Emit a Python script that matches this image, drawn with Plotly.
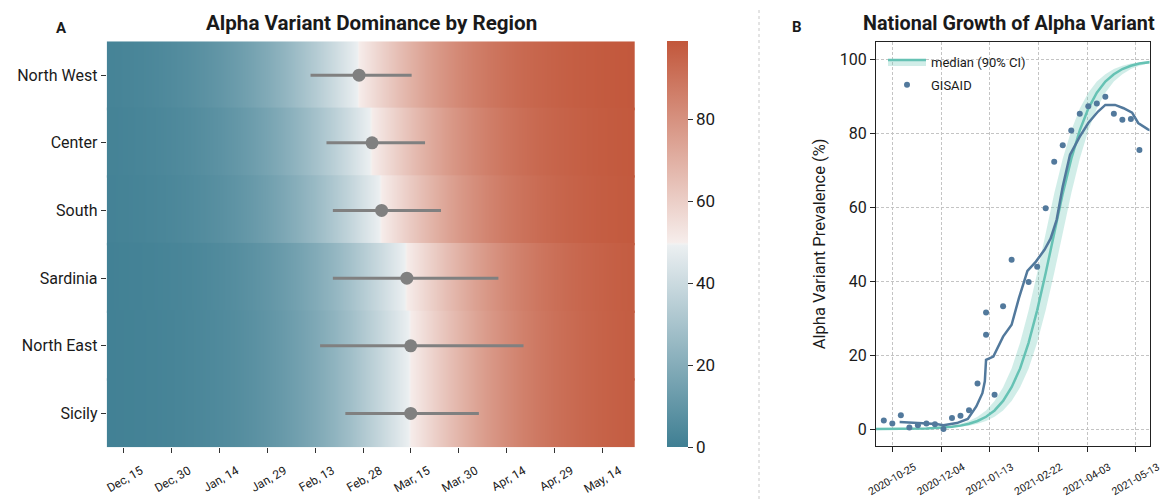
import plotly.graph_objects as go

# ---------------- Panel A data ----------------
regions = ["North West", "Center", "South", "Sardinia", "North East", "Sicily"]

# heatmap sample dates (every 5 days)
heat_dates = ["2020-12-10", "2020-12-15", "2020-12-20", "2020-12-25", "2020-12-30",
              "2021-01-04", "2021-01-09", "2021-01-14", "2021-01-19", "2021-01-24", "2021-01-29",
              "2021-02-03", "2021-02-08", "2021-02-13", "2021-02-18", "2021-02-23", "2021-02-28",
              "2021-03-05", "2021-03-10", "2021-03-15", "2021-03-20", "2021-03-25", "2021-03-30",
              "2021-04-04", "2021-04-09", "2021-04-14", "2021-04-19", "2021-04-24", "2021-04-29",
              "2021-05-04", "2021-05-09", "2021-05-14", "2021-05-19", "2021-05-24"]

prev_north_west = [1.9, 2.5, 3.1, 4.0, 5.1, 6.4, 8.1, 10.1, 12.6, 15.6, 19.2, 23.4, 28.2, 33.5, 39.3, 45.4, 51.6,
                   57.8, 63.8, 69.3, 74.4, 78.8, 82.7, 86.0, 88.7, 91.0, 92.9, 94.3, 95.5, 96.5, 97.2, 97.8, 98.3, 98.7]
prev_center = [1.6, 2.0, 2.6, 3.3, 4.2, 5.3, 6.7, 8.4, 10.5, 13.1, 16.2, 19.9, 24.2, 29.1, 34.5, 40.4, 46.5,
               52.7, 58.9, 64.8, 70.3, 75.2, 79.6, 83.3, 86.5, 89.2, 91.4, 93.2, 94.6, 95.7, 96.6, 97.4, 97.9, 98.4]
prev_south = [1.4, 1.7, 2.2, 2.8, 3.6, 4.6, 5.8, 7.3, 9.2, 11.5, 14.3, 17.7, 21.6, 26.1, 31.2, 36.8, 42.8,
              49.0, 55.2, 61.3, 67.0, 72.3, 77.0, 81.1, 84.7, 87.7, 90.1, 92.1, 93.8, 95.1, 96.1, 97.0, 97.6, 98.1]
prev_sardinia = [0.9, 1.2, 1.5, 1.9, 2.5, 3.1, 4.0, 5.1, 6.4, 8.1, 10.1, 12.6, 15.6, 19.2, 23.4, 28.2, 33.5,
                 39.3, 45.4, 51.6, 57.8, 63.8, 69.3, 74.4, 78.8, 82.7, 86.0, 88.7, 91.0, 92.9, 94.3, 95.5, 96.5, 97.2]
prev_north_east = [0.9, 1.1, 1.4, 1.8, 2.3, 3.0, 3.8, 4.8, 6.0, 7.6, 9.6, 12.0, 14.9, 18.3, 22.4, 27.0, 32.2,
                   37.9, 43.9, 50.1, 56.3, 62.4, 68.0, 73.2, 77.8, 81.8, 85.3, 88.1, 90.5, 92.4, 94.0, 95.3, 96.3, 97.1]
prev_sicily = [0.9, 1.1, 1.4, 1.8, 2.3, 3.0, 3.8, 4.8, 6.0, 7.6, 9.6, 12.0, 14.9, 18.3, 22.4, 27.0, 32.2,
               37.9, 43.9, 50.1, 56.3, 62.4, 68.0, 73.2, 77.8, 81.8, 85.3, 88.1, 90.5, 92.4, 94.0, 95.3, 96.3, 97.1]
heat_rows = [prev_north_west, prev_center, prev_south, prev_sardinia, prev_north_east, prev_sicily]

# dominance date estimate (median) and 90% CI per region
est_mid = ["2021-02-26 17:00", "2021-03-02 19:00", "2021-03-05 19:00",
           "2021-03-13 17:00", "2021-03-14 22:00", "2021-03-14 22:00"]
est_lo = ["2021-02-11 12:00", "2021-02-16 12:00", "2021-02-18 12:00",
          "2021-02-18 12:00", "2021-02-14 12:00", "2021-02-22 10:00"]
est_hi = ["2021-03-15 05:00", "2021-03-19 10:00", "2021-03-24 10:00",
          "2021-04-11 10:00", "2021-04-19 07:00", "2021-04-05 07:00"]

# ---------------- Panel B data ----------------
ci_dates = ["2020-10-04", "2020-10-11", "2020-10-18", "2020-10-25", "2020-11-01", "2020-11-08", "2020-11-15",
            "2020-11-22", "2020-11-29", "2020-12-06", "2020-12-13", "2020-12-20", "2020-12-27", "2021-01-03",
            "2021-01-10", "2021-01-17", "2021-01-24", "2021-01-31", "2021-02-07", "2021-02-14", "2021-02-21",
            "2021-02-28", "2021-03-07", "2021-03-14", "2021-03-21", "2021-03-28", "2021-04-04", "2021-04-11",
            "2021-04-18", "2021-04-25", "2021-05-02", "2021-05-09", "2021-05-16", "2021-05-23", "2021-05-30"]
median_vals = [0.0, 0.0, 0.0, 0.03, 0.04, 0.07, 0.10, 0.16, 0.25, 0.38, 0.59, 0.91, 1.41, 2.17, 3.31, 5.02,
               7.59, 11.3, 16.4, 23.4, 32.1, 42.2, 53.1, 63.7, 73.1, 80.8, 86.7, 91.0, 94.0, 96.0, 97.4, 98.3,
               98.9, 99.3, 99.5]
upper_vals = [0.0, 0.0, 0.03, 0.04, 0.07, 0.10, 0.16, 0.25, 0.38, 0.59, 0.91, 1.41, 2.17, 3.31, 5.02, 7.59,
              11.3, 16.4, 23.4, 32.1, 42.2, 53.1, 63.7, 73.1, 80.8, 86.7, 91.0, 94.0, 96.0, 97.4, 98.3, 98.9,
              99.3, 99.5, 99.7]
lower_vals = [0.0, 0.0, 0.0, 0.0, 0.03, 0.04, 0.07, 0.10, 0.16, 0.25, 0.38, 0.59, 0.91, 1.41, 2.17, 3.31,
              5.02, 7.59, 11.3, 16.4, 23.4, 32.1, 42.2, 53.1, 63.7, 73.1, 80.8, 86.7, 91.0, 94.0, 96.0, 97.4,
              98.3, 98.9, 99.3]

gisaid_dates = ["2020-10-18", "2020-10-25", "2020-11-01", "2020-11-08", "2020-11-15", "2020-11-22",
                "2020-11-29", "2020-12-06", "2020-12-13", "2020-12-20", "2020-12-27", "2021-01-03",
                "2021-01-10", "2021-01-10", "2021-01-17", "2021-01-24", "2021-01-31", "2021-02-14",
                "2021-02-21", "2021-02-28", "2021-03-07", "2021-03-14", "2021-03-21", "2021-03-28",
                "2021-04-04", "2021-04-11", "2021-04-18", "2021-04-25", "2021-05-02", "2021-05-09", "2021-05-16"]
gisaid_vals = [2.3, 1.5, 3.7, 0.4, 1.0, 1.5, 1.3, 0.0, 3.0, 3.6, 5.1, 12.3, 25.5, 31.5, 9.3, 33.2, 45.8,
               39.8, 43.9, 59.7, 72.3, 76.8, 80.8, 85.3, 87.3, 88.1, 89.9, 85.3, 83.7, 83.9, 75.5]

trend_dates = ["2020-10-31", "2020-11-16", "2020-11-30", "2020-12-06", "2020-12-17", "2020-12-26",
               "2021-01-02", "2021-01-07", "2021-01-09", "2021-01-10", "2021-01-16", "2021-01-24",
               "2021-01-31", "2021-02-06", "2021-02-13", "2021-02-20", "2021-02-27", "2021-03-04",
               "2021-03-09", "2021-03-14", "2021-03-20", "2021-03-28", "2021-04-04", "2021-04-12",
               "2021-04-18", "2021-04-26", "2021-05-03", "2021-05-10", "2021-05-15", "2021-05-23", "2021-05-27"]
trend_vals = [1.9, 1.6, 1.35, 1.0, 1.6, 2.7, 6.1, 9.7, 12.9, 18.7, 19.6, 25.0, 28.2, 35.4, 42.8, 45.3,
              48.5, 51.5, 56.6, 65.6, 74.2, 79.1, 82.8, 85.9, 87.7, 87.7, 86.8, 85.6, 82.8, 81.1, 80.5]

# ---------------- styling ----------------
# the page body has an 8px default margin, so the figure is 8px smaller than the window
OFF = 8
W, H = 1169 - OFF, 499 - OFF
FONT = "Roboto"
TXT = "#1a1a1a"
TEAL = "#66c2b4"
BAND = "rgba(102,194,180,0.30)"
BLUE = "#52799c"
GRAY = "#808080"

colorscale = [[0.0, "#3f7f93"], [0.496, "#ebeff1"], [0.5, "#f2f2f2"],
              [0.504, "#f6edeb"], [1.0, "#c2573b"]]

def fx(x):  # window pixel x -> paper fraction
    return (x - OFF) / W

def fy(y):  # window pixel y (from top) -> paper fraction
    return 1 - (y - OFF) / H

fig = go.Figure()

# each region row is its own heatmap strip (slightly overlapping to avoid seams)
for i, vals in enumerate(heat_rows):
    fig.add_trace(go.Heatmap(
        x=heat_dates, y=[i - 0.26, i + 0.26], z=[vals, vals],
        coloraxis="coloraxis", zsmooth="best", hoverinfo="skip",
        xaxis="x", yaxis="y"))

for i in range(len(regions)):
    fig.add_trace(go.Scatter(
        x=[est_lo[i], est_hi[i]], y=[i, i], mode="lines",
        line=dict(color=GRAY, width=3), showlegend=False, hoverinfo="skip",
        xaxis="x", yaxis="y"))
fig.add_trace(go.Scatter(
    x=est_mid, y=list(range(len(regions))), mode="markers",
    marker=dict(color=GRAY, size=13), showlegend=False, xaxis="x", yaxis="y"))

# Panel B
fig.add_trace(go.Scatter(x=ci_dates, y=lower_vals, mode="lines", line=dict(width=0, color=TEAL),
                         showlegend=False, hoverinfo="skip", xaxis="x2", yaxis="y2"))
fig.add_trace(go.Scatter(x=ci_dates, y=median_vals, mode="lines", fill="tonexty", fillcolor=BAND,
                         line=dict(width=2.5, color=TEAL), name="median (90% CI)",
                         legendgroup="a", xaxis="x2", yaxis="y2"))
fig.add_trace(go.Scatter(x=ci_dates, y=upper_vals, mode="lines", fill="tonexty", fillcolor=BAND,
                         line=dict(width=0, color=TEAL), showlegend=False, hoverinfo="skip",
                         xaxis="x2", yaxis="y2"))
fig.add_trace(go.Scatter(x=trend_dates, y=trend_vals, mode="lines", line=dict(width=2.5, color=BLUE),
                         showlegend=False, xaxis="x2", yaxis="y2"))
fig.add_trace(go.Scatter(x=gisaid_dates, y=gisaid_vals, mode="markers",
                         marker=dict(color=BLUE, size=6), name="GISAID", legendgroup="b",
                         xaxis="x2", yaxis="y2"))

DAY = 86400000
GRIDDASH = "3px,2px"

fig.update_layout(
    width=W, height=H,
    margin=dict(l=0, r=0, t=0, b=0, autoexpand=False),
    paper_bgcolor="white", plot_bgcolor="white",
    font=dict(family=FONT, color=TXT),
    xaxis=dict(domain=[fx(106.7), fx(635)], anchor="y", type="date", automargin=False,
               range=["2020-12-09 14:00", "2021-05-24 06:00"],
               tick0="2020-12-15", dtick=15 * DAY, tickformat="%b, %d", tickangle=-30,
               ticklabelshift=17, ticklabelstandoff=6,
               ticks="outside", ticklen=5, tickcolor="#333", tickfont=dict(size=12),
               showgrid=False, zeroline=False, showline=False),
    yaxis=dict(domain=[fy(447.3), fy(41.3)], anchor="x", automargin=False,
               range=[5.5, -0.5], tickvals=list(range(len(regions))), ticktext=regions,
               ticks="outside", ticklen=5, tickcolor="#333", tickfont=dict(size=16),
               showgrid=False, zeroline=False, showline=False),
    xaxis2=dict(domain=[fx(876), fx(1149.5)], anchor="y2", type="date", automargin=False,
                range=["2020-10-11 14:00", "2021-05-24 07:00"],
                tick0="2020-10-25", dtick=40 * DAY, tickformat="%Y-%m-%d", tickangle=-30,
                ticklabelshift=22, ticklabelstandoff=5,
                ticks="outside", ticklen=5, tickcolor="#222", tickfont=dict(size=10.5),
                showgrid=True, gridcolor="#c4c4c4", griddash=GRIDDASH, gridwidth=1,
                zeroline=False, showline=True, mirror=True, linecolor="#222", linewidth=1.3),
    yaxis2=dict(domain=[fy(446), fy(41.7)], anchor="x2", automargin=False,
                range=[-4.6, 104.8], tickvals=[0, 20, 40, 60, 80, 100],
                ticks="outside", ticklen=5, tickcolor="#222", tickfont=dict(size=16),
                title=dict(text="Alpha Variant Prevalence (%)", font=dict(size=16.5), standoff=9),
                showgrid=True, gridcolor="#c4c4c4", griddash=GRIDDASH, gridwidth=1,
                zeroline=False, showline=True, mirror=True, linecolor="#222", linewidth=1.3),
    coloraxis=dict(colorscale=colorscale, cmin=0, cmax=99,
                   colorbar=dict(x=fx(667), xanchor="left", xpad=0, ypad=0,
                                 y=fy(447.3), yanchor="bottom", len=406 / H, lenmode="fraction",
                                 thickness=21, thicknessmode="pixels", outlinewidth=0,
                                 tickvals=[0, 20, 40, 60, 80], ticks="outside", ticklen=5,
                                 tickcolor="#333", tickfont=dict(size=17, family=FONT, color=TXT))),
    legend=dict(x=fx(883), y=fy(47), xanchor="left", yanchor="top",
                bgcolor="rgba(0,0,0,0)", font=dict(size=13), tracegroupgap=3,
                traceorder="grouped", itemwidth=38),
    shapes=[dict(type="line", xref="paper", yref="paper", x0=fx(759), x1=fx(759),
                 y0=0, y1=1, line=dict(color="#c8c8c8", width=1, dash="dot"))],
    annotations=[
        dict(text="<b>Alpha Variant Dominance by Region</b>", x=fx(371), y=fy(23),
             xref="paper", yref="paper", showarrow=False, xanchor="center", yanchor="middle",
             font=dict(size=20.6)),
        dict(text="<b>National Growth of Alpha Variant</b>", x=fx(1009), y=fy(23),
             xref="paper", yref="paper", showarrow=False, xanchor="center", yanchor="middle",
             font=dict(size=19.8)),
        dict(text="<b>A</b>", x=fx(61), y=fy(28), xref="paper", yref="paper",
             showarrow=False, xanchor="center", yanchor="middle", font=dict(size=15)),
        dict(text="<b>B</b>", x=fx(797), y=fy(27), xref="paper", yref="paper",
             showarrow=False, xanchor="center", yanchor="middle", font=dict(size=15)),
    ],
)

fig.write_html("out.html")
